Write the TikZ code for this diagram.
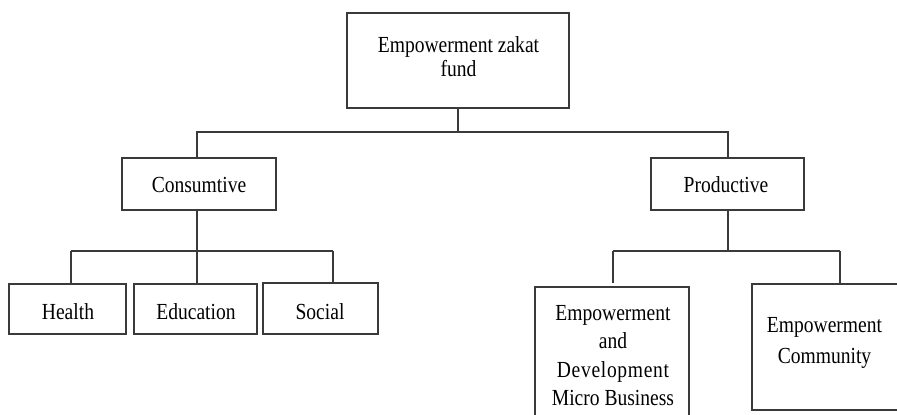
\documentclass[tikz,border=0pt]{standalone}
\usepackage{fontspec}
\setmainfont[FakeStretch=0.85]{Liberation Serif}
\begin{document}
\begin{tikzpicture}[x=1pt,y=-1pt,
  box/.style={draw=linegray,line width=1.3pt,rectangle,inner sep=0pt,font=\fontsize{23}{24}\selectfont},
  txt/.style={align=center,inner sep=0pt,font=\fontsize{23}{24}\selectfont},
  conn/.style={draw=linegray,line width=1.3pt}]
\definecolor{linegray}{HTML}{3A3A3A}
\useasboundingbox (0,0) rectangle (897,415);
\clip (0,0) rectangle (897,415);
% boxes
\node[box,minimum width=222pt,minimum height=95pt] (top) at (458,60.5) {};
\node[txt] (toptxt) at (458.5,57) {Empowerment zakat\\fund};
\node[box,minimum width=154pt,minimum height=52pt] (cons) at (199,184) {};
\node[txt,anchor=base] (constxt) at (199,192) {Consumtive};
\node[box,minimum width=153pt,minimum height=52pt] (prod) at (727.5,184) {};
\node[txt,anchor=base] (prodtxt) at (726,192) {Productive};
\node[box,minimum width=117pt,minimum height=50pt] (health) at (67.5,309) {};
\node[txt,anchor=base] (healthtxt) at (68,319) {Health};
\node[box,minimum width=123pt,minimum height=50pt] (edu) at (195.5,309) {};
\node[txt,anchor=base] (edutxt) at (196,319) {Education};
\node[box,minimum width=115pt,minimum height=51pt] (soc) at (320.5,308.5) {};
\node[txt,anchor=base] (soctxt) at (320,319) {Social};
\node[box,minimum width=154pt,minimum height=134pt] (micro) at (612,354) {};
\node[txt,font=\fontsize{23}{28.5}\selectfont] (microtxt) at (613,355.5) {Empowerment\\and\\{\addfontfeature{LetterSpace=3}Development}\\Micro Business};
\node[box,minimum width=146pt,minimum height=126pt] (comm) at (825,347) {};
\node[txt,font=\fontsize{23}{31}\selectfont] (commtxt) at (824.5,342.5) {Empowerment\\Community};
% junction coordinates
\coordinate (j0) at (458,132);
\coordinate (jc) at (197,132);
\coordinate (jp) at (728,132);
\coordinate (j1) at (197,251);
\coordinate (j2) at (728,251);
% connectors
\draw[conn] (top.south) -- (j0);
\draw[conn] (cons.north -| jc) |- (jp) -- (prod.north -| jp);
\draw[conn] (cons.south -| j1) -- (j1);
\draw[conn] (71,251) coordinate (hl) -- (333,251) coordinate (sl);
\draw[conn] (hl) -- (health.north -| hl);
\draw[conn] (j1) -- (edu.north -| j1);
\draw[conn] (sl) -- (soc.north -| sl);
\draw[conn] (prod.south -| j2) -- (j2);
\draw[conn] (613,251) coordinate (ml) -- (840,251) coordinate (cl);
\draw[conn] (ml) -- (613,283);
\draw[conn] (cl) -- (comm.north -| cl);
\end{tikzpicture}
\end{document}
